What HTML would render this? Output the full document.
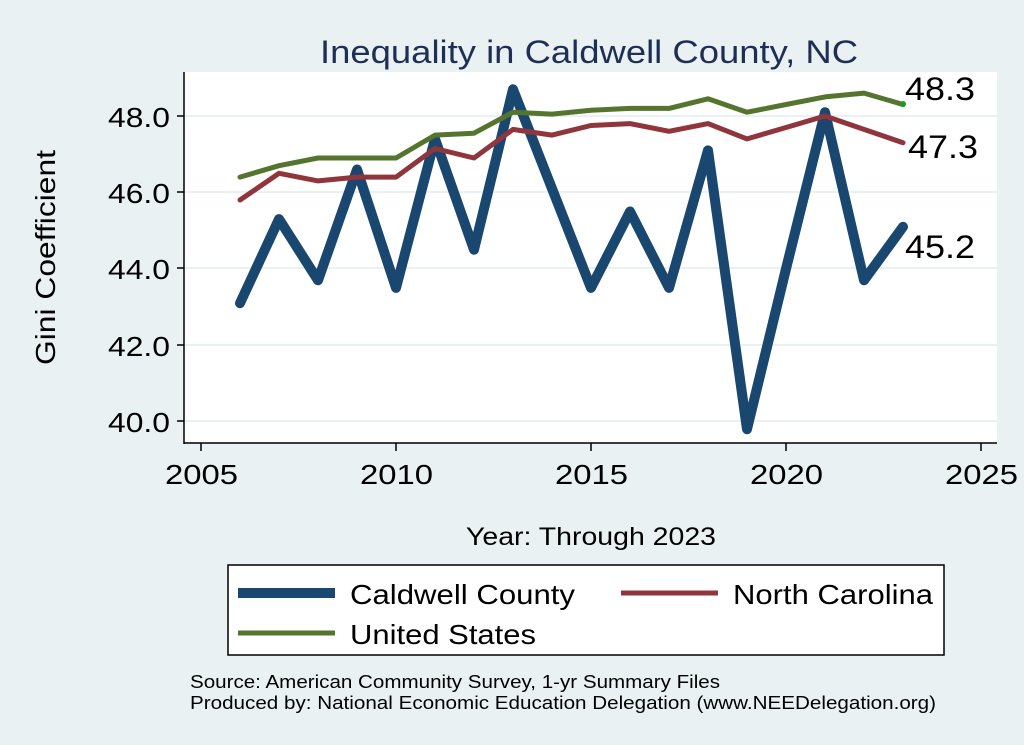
<!DOCTYPE html>
<html><head><meta charset="utf-8"><style>
body{margin:0;background:#eaf1f3;}
svg{display:block;font-family:"Liberation Sans",Arial,sans-serif;}
</style></head><body>
<svg width="1024" height="745" viewBox="0 0 1024 745" xmlns="http://www.w3.org/2000/svg">
<rect width="1024" height="745" fill="#eaf1f3"/>
<rect x="184" y="72" width="813" height="371" fill="#fff"/>
<g stroke="#eaf1f3" stroke-width="2">
<line x1="184" x2="997" y1="116" y2="116"/>
<line x1="184" x2="997" y1="192" y2="192"/>
<line x1="184" x2="997" y1="268" y2="268"/>
<line x1="184" x2="997" y1="345" y2="345"/>
<line x1="184" x2="997" y1="421" y2="421"/>
</g>
<g stroke="#000" stroke-width="1.5">
<line x1="184" y1="72" x2="184" y2="444"/>
<line x1="184" y1="443" x2="997" y2="443"/>
<line x1="177" x2="184" y1="116" y2="116"/><line x1="177" x2="184" y1="192" y2="192"/>
<line x1="177" x2="184" y1="268" y2="268"/><line x1="177" x2="184" y1="345" y2="345"/>
<line x1="177" x2="184" y1="421" y2="421"/>
<line x1="201" x2="201" y1="443" y2="451"/><line x1="396" x2="396" y1="443" y2="451"/>
<line x1="591" x2="591" y1="443" y2="451"/><line x1="786" x2="786" y1="443" y2="451"/>
<line x1="981" x2="981" y1="443" y2="451"/>
</g>
<g font-size="28" fill="#000">
<text x="108" y="127" textLength="62" lengthAdjust="spacingAndGlyphs">48.0</text>
<text x="108" y="203" textLength="62" lengthAdjust="spacingAndGlyphs">46.0</text>
<text x="108" y="279" textLength="62" lengthAdjust="spacingAndGlyphs">44.0</text>
<text x="108" y="356" textLength="62" lengthAdjust="spacingAndGlyphs">42.0</text>
<text x="108" y="432" textLength="62" lengthAdjust="spacingAndGlyphs">40.0</text>
</g>
<g font-size="28" fill="#000">
<text x="165" y="484" textLength="73" lengthAdjust="spacingAndGlyphs">2005</text>
<text x="360" y="484" textLength="73" lengthAdjust="spacingAndGlyphs">2010</text>
<text x="555" y="484" textLength="73" lengthAdjust="spacingAndGlyphs">2015</text>
<text x="750" y="484" textLength="73" lengthAdjust="spacingAndGlyphs">2020</text>
<text x="945" y="484" textLength="73" lengthAdjust="spacingAndGlyphs">2025</text>
<text x="466" y="545" font-size="25" textLength="250" lengthAdjust="spacingAndGlyphs">Year: Through 2023</text>
<text x="320" y="63" font-size="32" fill="#1f2e55" textLength="538" lengthAdjust="spacingAndGlyphs">Inequality in Caldwell County, NC</text>
</g>
<text transform="translate(55,365) rotate(-90)" font-size="28" textLength="215" lengthAdjust="spacingAndGlyphs">Gini Coefficient</text>
<g id="lines" fill="none" stroke-linejoin="round" stroke-linecap="round"></g>
<circle cx="903" cy="104" r="3" fill="#1a9b1a"/>
<g font-size="32" fill="#000">
<text x="905" y="100" textLength="70" lengthAdjust="spacingAndGlyphs">48.3</text>
<text x="908" y="158" textLength="70" lengthAdjust="spacingAndGlyphs">47.3</text>
<text x="905" y="258" textLength="70" lengthAdjust="spacingAndGlyphs">45.2</text>
</g>
<rect x="228" y="565" width="716" height="90" fill="#fff" stroke="#000" stroke-width="1.5"/>
<g>
<line x1="238" x2="335" y1="593" y2="593" stroke="#1a476f" stroke-width="10"/>
<line x1="621" x2="718" y1="593" y2="593" stroke="#90353b" stroke-width="5"/>
<line x1="238" x2="335" y1="633" y2="633" stroke="#55752f" stroke-width="5"/>
</g>
<g font-size="28" fill="#000">
<text x="350" y="604" textLength="225" lengthAdjust="spacingAndGlyphs">Caldwell County</text>
<text x="733" y="604" textLength="200" lengthAdjust="spacingAndGlyphs">North Carolina</text>
<text x="350" y="644" textLength="186" lengthAdjust="spacingAndGlyphs">United States</text>
</g>
<g font-size="18" fill="#000">
<text x="190" y="688" textLength="530" lengthAdjust="spacingAndGlyphs">Source: American Community Survey, 1-yr Summary Files</text>
<text x="190" y="709" textLength="746" lengthAdjust="spacingAndGlyphs">Produced by: National Economic Education Delegation (www.NEEDelegation.org)</text>
</g>
<script>
var cal=[43.1,45.3,43.7,46.6,43.5,47.4,44.5,48.7,46.1,43.5,45.5,43.5,47.1,39.8,44.0,48.1,43.7,45.1];
var nc=[45.8,46.5,46.3,46.4,46.4,47.15,46.9,47.65,47.5,47.75,47.8,47.6,47.8,47.4,47.7,48.0,47.65,47.3];
var us=[46.4,46.7,46.9,46.9,46.9,47.5,47.55,48.1,48.05,48.15,48.2,48.2,48.45,48.1,48.3,48.5,48.6,48.3];
function pts(a){return a.map(function(v,i){return (201+39*(i+1)).toFixed(1)+","+(116+(48-v)*38.2).toFixed(1)}).join(" ")}
var g=document.getElementById("lines"),ns="http://www.w3.org/2000/svg";
[[cal,"#1a476f",10],[nc,"#90353b",5],[us,"#55752f",5]].forEach(function(s){var p=document.createElementNS(ns,"polyline");p.setAttribute("points",pts(s[0]));p.setAttribute("stroke",s[1]);p.setAttribute("stroke-width",s[2]);g.appendChild(p);});
</script>
</svg>
</body></html>
